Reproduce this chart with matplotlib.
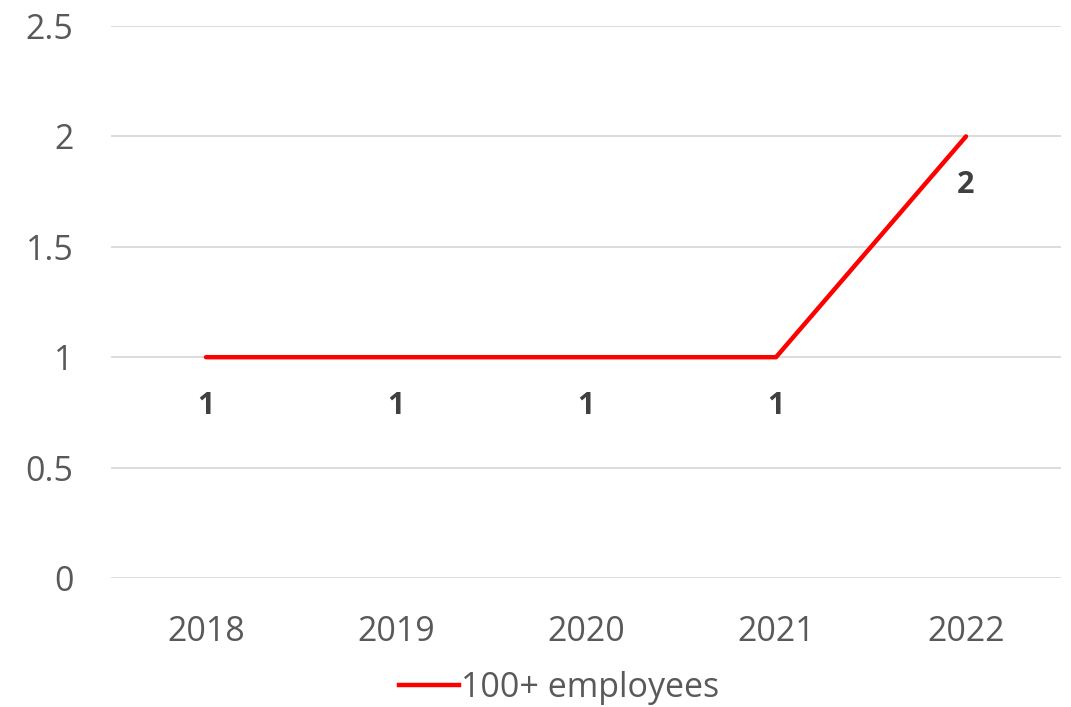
import matplotlib.pyplot as plt
from matplotlib.lines import Line2D

years = ["2018", "2019", "2020", "2021", "2022"]
employees_100_plus = [1, 1, 1, 1, 2]
y_ticks = [0, 0.5, 1, 1.5, 2, 2.5]
y_tick_labels = ["0", "0.5", "1", "1.5", "2", "2.5"]

plt.rcParams['font.family'] = ['Open Sans', 'DejaVu Sans']

fig = plt.figure(figsize=(10.71, 7.07), dpi=100)
ax = fig.add_axes([0.1036, 0.1825, 0.8871, 0.7807])

x = range(len(years))
ax.plot(x, employees_100_plus, color="#ff0000", linewidth=3.2,
        solid_capstyle="round", label="100+ employees", zorder=3)

# data labels under each point
for xi, v in zip(x, employees_100_plus):
    ax.annotate(str(v), (xi, v), xytext=(0, -35), textcoords="offset points",
                ha="center", va="center", fontsize=22, fontweight="bold",
                color="#404040")

ax.set_xlim(-0.5, len(years) - 0.5)
ax.set_ylim(0, 2.5)
ax.set_xticks(list(x))
ax.set_xticklabels(years)
ax.set_yticks(y_ticks)
ax.set_yticklabels(y_tick_labels)
ax.tick_params(axis="both", length=0, labelsize=24.5, colors="#595959")
ax.tick_params(axis="x", pad=27)
ax.tick_params(axis="y", pad=27)
ax.grid(axis="y", color="#d9d9d9", linewidth=1.3)
ax.set_axisbelow(True)
for s in ax.spines.values():
    s.set_visible(False)

fig.legend(handles=[Line2D([], [], color="#ff0000", linewidth=3.2)],
           labels=["100+ employees"], loc="center", bbox_to_anchor=(0.522, 0.027),
           frameon=False, fontsize=24.5, labelcolor="#595959",
           handlelength=1.75, handletextpad=0.05)

fig.savefig("out.png", dpi=100)
